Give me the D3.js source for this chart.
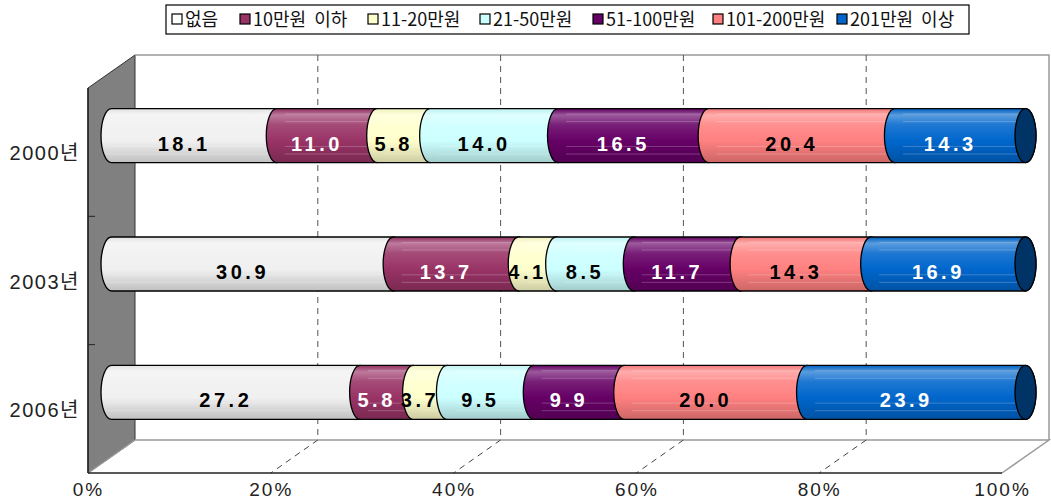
<!DOCTYPE html>
<html>
<head>
<meta charset="utf-8">
<script src="https://cdn.jsdelivr.net/npm/d3@7"></script>
<style>
  body { margin: 0; background: #fff; }
  svg { display: block; }
</style>
</head>
<body>
<svg id="chart" width="1051" height="502"></svg>
<script>
// data
var years = ["2000년", "2003년", "2006년"];
var groups = ["없음", "10만원 이하", "11-20만원", "21-50만원", "51-100만원", "101-200만원", "201만원 이상"];
var none     = [18.1, 30.9, 27.2];
var under10  = [11.0, 13.7, 5.8];
var w11to20  = [5.8, 4.1, 3.7];
var w21to50  = [14.0, 8.5, 9.5];
var w51to100 = [16.5, 11.7, 9.9];
var w101to200 = [20.4, 14.3, 20.0];
var over201  = [14.3, 16.9, 23.9];
var pctTicks = [0, 0.2, 0.4, 0.6, 0.8, 1];

var colors = ["#ffffff", "#993366", "#ffffcc", "#ccffff", "#660066", "#ff8080", "#0066cc"];
var labelColors = ["#000", "#fff", "#000", "#000", "#fff", "#000", "#fff"];

var seriesVals = [none, under10, w11to20, w21to50, w51to100, w101to200, over201];
var rows = years.map(function (y, i) {
    var r = { year: y };
    groups.forEach(function (g, j) { r[g] = seriesVals[j][i]; });
    return r;
});

var svg = d3.select("#chart");

// front plane of the box, and the depth offset to the back wall
var front = { left: 88, right: 1002, top: 88, bottom: 473 };
var dx = 47, dy = -33;

var xFront = d3.scaleLinear().domain([0, 1]).range([front.left, front.right]);
var xBack = d3.scaleLinear().domain([0, 1]).range([front.left + dx, front.right + dx]);
var xMid = d3.scaleLinear().domain([0, 1]).range([front.left + dx / 2, front.right + dx / 2]);
var yFront = d3.scaleBand().domain(years).range([front.top, front.bottom]);
var barH = 54;

var stack = d3.stack().keys(groups).offset(d3.stackOffsetExpand);
var layers = stack(rows);

// gradients for the cylinders
var defs = svg.append("defs");
colors.forEach(function (c, i) {
    var g = defs.append("linearGradient").attr("id", "grad" + i)
        .attr("x1", 0).attr("y1", 0).attr("x2", 0).attr("y2", 1);
    var base = i === 0 ? "#f0f0f0" : c;
    var stops = [
        [0, d3.interpolateRgb(base, "#000")(0.06)],
        [0.12, d3.interpolateRgb(base, "#fff")(0.35)],
        [0.3, d3.interpolateRgb(base, "#fff")(0.12)],
        [0.6, base],
        [1, d3.interpolateRgb(base, "#000")(0.2)]
    ];
    stops.forEach(function (s) {
        g.append("stop").attr("offset", s[0]).attr("stop-color", s[1]);
    });
});

// left wall
svg.append("polygon")
    .attr("points", [[front.left, front.top], [front.left + dx, front.top + dy],
        [front.left + dx, front.bottom + dy], [front.left, front.bottom]].join(" "))
    .attr("fill", "#808080")
    .attr("stroke", "#333")
    .attr("stroke-width", 1);

// back wall edges
svg.append("path")
    .attr("d", "M" + (front.left + dx) + "," + (front.top + dy) +
        "H" + (front.right + dx) + "V" + (front.bottom + dy))
    .attr("fill", "none").attr("stroke", "#999").attr("stroke-width", 1.5);

// floor
svg.append("path")
    .attr("d", "M" + front.left + "," + front.bottom + "L" + (front.left + dx) + "," + (front.bottom + dy) +
        "H" + (front.right + dx) + "L" + front.right + "," + front.bottom)
    .attr("fill", "none").attr("stroke", "#999").attr("stroke-width", 1.5);

// gridlines on the back wall and floor
var inner = pctTicks.filter(function (t) { return t > 0 && t < 1; });
svg.selectAll(".gridBack").data(inner).enter().append("line")
    .attr("class", "gridBack")
    .attr("x1", function (d) { return xBack(d); })
    .attr("x2", function (d) { return xBack(d); })
    .attr("y1", front.top + dy)
    .attr("y2", front.bottom + dy)
    .attr("stroke", "#555").attr("stroke-dasharray", "6,5");
svg.selectAll(".gridFloor").data(inner).enter().append("line")
    .attr("class", "gridFloor")
    .attr("x1", function (d) { return xBack(d); })
    .attr("x2", function (d) { return xFront(d); })
    .attr("y1", front.bottom + dy)
    .attr("y2", front.bottom)
    .attr("stroke", "#444").attr("stroke-dasharray", "6,5");

// front axis line
svg.append("line")
    .attr("x1", front.left).attr("x2", front.right)
    .attr("y1", front.bottom).attr("y2", front.bottom)
    .attr("stroke", "#222").attr("stroke-width", 1.5);
svg.append("line")
    .attr("x1", front.left).attr("x2", front.left)
    .attr("y1", front.top).attr("y2", front.bottom)
    .attr("stroke", "#222").attr("stroke-width", 1.5);

// category ticks on the wall edge
svg.selectAll(".catTick").data(years.slice(1)).enter().append("line")
    .attr("class", "catTick")
    .attr("x1", front.left).attr("x2", front.left + 7)
    .attr("y1", function (d) { return yFront(d); })
    .attr("y2", function (d) { return yFront(d); })
    .attr("stroke", "#222");

// bottom axis labels
var xAxis = d3.axisBottom(xFront).tickValues(pctTicks).tickFormat(d3.format(".0%")).tickSize(0).tickPadding(0);
var gx = svg.append("g").attr("transform", "translate(0," + front.bottom + ")").call(xAxis);
gx.select(".domain").remove();
gx.selectAll("text")
    .attr("y", 23)
    .attr("dy", null)
    .attr("font-family", "Liberation Sans, Arial, sans-serif")
    .attr("font-size", "19px")
    .attr("letter-spacing", "2px")
    .attr("fill", "#222");

// year labels
svg.selectAll(".yearLabel").data(years).enter().append("text")
    .attr("class", "yearLabel")
    .attr("x", 80)
    .attr("y", function (d) { return yFront(d) + yFront.bandwidth() / 2 + 8; })
    .attr("text-anchor", "end")
    .attr("font-family", "Liberation Sans, Noto Sans CJK KR, sans-serif")
    .attr("font-size", "20px")
    .attr("letter-spacing", "1.5px")
    .attr("fill", "#222")
    .text(function (d) { return d; });

// cylinders
var rx = 10.5;
function barCenter(year) { return yFront(year) + yFront.bandwidth() / 2 + dy / 2; }

function segPath(x0, x1, yt, yb) {
    var ry = (yb - yt) / 2;
    return "M" + x0 + "," + yt + "L" + x1 + "," + yt +
        "A" + rx + "," + ry + " 0 0 1 " + x1 + "," + yb +
        "L" + x0 + "," + yb +
        "A" + rx + "," + ry + " 0 0 1 " + x0 + "," + yt + "Z";
}

var stripes = [0.1, 0.24, 0.7, 0.84];

layers.forEach(function (layer, i) {
    var seg = svg.selectAll(".seg" + i).data(layer).enter().append("g").attr("class", "seg" + i);
    seg.append("path")
        .attr("d", function (d) {
            var c = barCenter(d.data.year);
            return segPath(xMid(d[0]), xMid(d[1]), c - barH / 2, c + barH / 2);
        })
        .attr("fill", "url(#grad" + i + ")")
        .attr("stroke", "#000").attr("stroke-width", 1.3);
    stripes.forEach(function (s) {
        seg.append("line")
            .attr("x1", function (d) { return xMid(d[0]) + (i === 0 ? -6 : 8); })
            .attr("x2", function (d) { return xMid(d[1]) + 4; })
            .attr("y1", function (d) { return barCenter(d.data.year) - barH / 2 + s * barH; })
            .attr("y2", function (d) { return barCenter(d.data.year) - barH / 2 + s * barH; })
            .attr("stroke", "#fff").attr("stroke-opacity", 0.22).attr("stroke-width", 1);
    });
});

// right end caps
var last = layers[layers.length - 1];
svg.selectAll(".cap").data(last).enter().append("ellipse")
    .attr("class", "cap")
    .attr("cx", function (d) { return xMid(d[1]); })
    .attr("cy", function (d) { return barCenter(d.data.year); })
    .attr("rx", rx).attr("ry", barH / 2)
    .attr("fill", "#003366")
    .attr("stroke", "#000").attr("stroke-width", 1.3);

// value labels
layers.forEach(function (layer, i) {
    svg.selectAll(".val" + i).data(layer).enter().append("text")
        .attr("class", "val" + i)
        .attr("x", function (d) { return (xMid(d[0]) + xMid(d[1])) / 2 - 10; })
        .attr("y", function (d) { return barCenter(d.data.year) + 15; })
        .attr("text-anchor", "middle")
        .attr("font-family", "Liberation Sans, Arial, sans-serif")
        .attr("font-weight", "bold")
        .attr("font-size", "20px")
        .attr("letter-spacing", "3.5px")
        .attr("fill", labelColors[i])
        .text(function (d) { return d.data[groups[i]].toFixed(1); });
});

// legend
var legX = [172, 240, 368, 480, 593, 713, 837];
var legend = svg.append("g");
legend.append("rect")
    .attr("x", 166).attr("y", 5).attr("width", 803).attr("height", 29)
    .attr("fill", "#fff").attr("stroke", "#000").attr("stroke-width", 1.2);
var items = legend.selectAll(".legItem").data(groups).enter().append("g")
    .attr("class", "legItem")
    .attr("transform", function (d, i) { return "translate(" + legX[i] + ",0)"; });
items.append("rect")
    .attr("x", 0).attr("y", 14).attr("width", 10).attr("height", 10)
    .attr("fill", function (d, i) { return colors[i]; })
    .attr("stroke", "#000").attr("stroke-width", 1.2);
items.append("text")
    .attr("x", 13).attr("y", 26)
    .attr("font-family", "Noto Sans CJK KR, sans-serif")
    .attr("font-size", "18px")
    .attr("word-spacing", "4px")
    .attr("fill", "#111")
    .text(function (d) { return d; });
</script>
</body>
</html>
